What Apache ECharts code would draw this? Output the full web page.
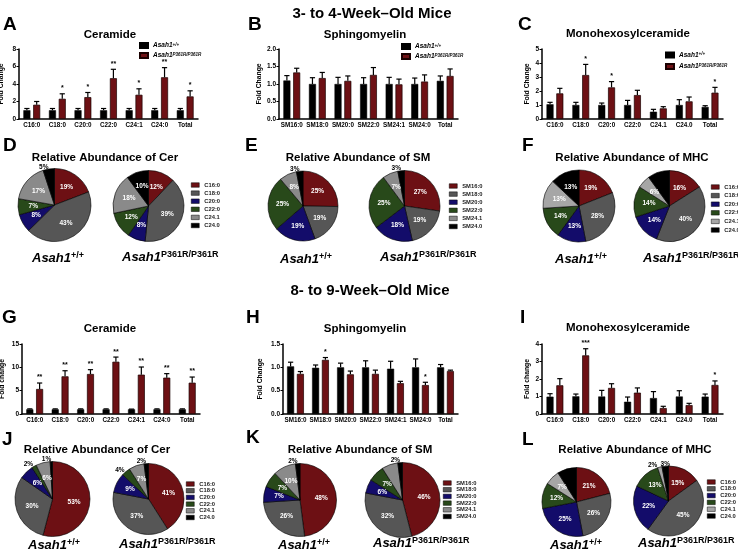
<!DOCTYPE html>
<html><head><meta charset="utf-8">
<script src="https://cdn.jsdelivr.net/npm/echarts/dist/echarts.min.js"></script>
<style>html,body{margin:0;padding:0;background:#fff}#c{width:738px;height:554px}</style>
</head><body><div id="c"></div>
<script>
const FONT = '"Liberation Sans", Arial, Helvetica, sans-serif';
const WT = 'Asah1+/+';
const MUT = 'Asah1P361R/P361R';

// ---------- categories ----------
const catsCer = ['C16:0','C18:0','C20:0','C22:0','C24:1','C24:0','Total'];
const catsSM  = ['SM16:0','SM18:0','SM20:0','SM22:0','SM24:1','SM24:0','Total'];
const catsMHC = ['C16:0','C18:0','C20:0','C22:0','C24.1','C24.0','Total'];

// ---------- Panel A: Ceramide (3-4 wk) ----------
const aTicks = [0,2,4,6,8];
const aWT = [1.0,1.0,1.0,1.0,1.0,1.0,1.0];
const aWTErr = [0.2,0.2,0.2,0.2,0.2,0.2,0.2];
const aMut = [1.63,2.31,2.5,4.66,2.77,4.77,2.58];
const aMutErr = [0.37,0.57,0.53,1.02,0.68,1.1,0.64];
const aStars = ['','*','*','**','*','**','*'];

// ---------- Panel B: Sphingomyelin (3-4 wk) ----------
const bTicks = [0,0.5,1.0,1.5,2.0];
const bWT = [1.1,1.0,1.0,1.0,1.0,1.0,1.09];
const bWTErr = [0.14,0.18,0.19,0.18,0.19,0.17,0.14];
const bMut = [1.33,1.17,1.09,1.26,0.99,1.07,1.23];
const bMutErr = [0.12,0.16,0.14,0.21,0.15,0.19,0.2];
const bStars = ['','','','','','',''];

// ---------- Panel C: Monohexosylceramide (3-4 wk) ----------
const cTicks = [0,1,2,3,4,5];
const cWT = [1.05,1.0,1.0,1.0,0.52,1.0,0.86];
const cWTErr = [0.14,0.19,0.14,0.33,0.17,0.38,0.09];
const cMut = [1.83,3.14,2.26,1.71,0.76,1.26,1.88];
const cMutErr = [0.36,0.76,0.41,0.34,0.12,0.31,0.38];
const cStars = ['','*','*','','','','*'];

// ---------- Panel G: Ceramide (8-9 wk) ----------
const gTicks = [0,5,10,15];
const gWT = [1.0,1.0,1.0,1.0,1.0,1.0,1.0];
const gWTErr = [0.1,0.1,0.1,0.1,0.05,0.1,0.1];
const gMut = [5.36,8.07,8.57,11.2,8.43,7.79,6.71];
const gMutErr = [1.28,1.2,0.93,1.0,1.64,0.86,1.21];
const gStars = ['**','**','**','**','**','**','**'];

// ---------- Panel H: Sphingomyelin (8-9 wk) ----------
const hTicks = [0,0.5,1.0,1.5];
const hWT = [1.02,0.99,1.0,1.0,0.97,1.0,1.0];
const hWTErr = [0.09,0.06,0.09,0.14,0.16,0.18,0.06];
const hMut = [0.86,1.16,0.85,0.86,0.66,0.62,0.92];
const hMutErr = [0.05,0.05,0.07,0.08,0.04,0.06,0.02];
const hStars = ['','*','','','','*',''];

// ---------- Panel I: Monohexosylceramide (8-9 wk) ----------
const iTicks = [0,1,2,3,4];
const iWT = [0.99,1.01,1.0,0.7,0.91,1.0,0.99];
const iWTErr = [0.17,0.13,0.35,0.27,0.37,0.33,0.15];
const iMut = [1.64,3.35,1.49,1.22,0.34,0.51,1.66];
const iMutErr = [0.38,0.38,0.24,0.27,0.1,0.1,0.23];
const iStars = ['','***','','','','','*'];

// ---------- Pie data (percent) ----------
const cerNames = ['C16:0','C18:0','C20:0','C22:0','C24.1','C24.0'];
const smNames  = ['SM16:0','SM18:0','SM20:0','SM22:0','SM24.1','SM24.0'];
const dWT  = [19,43,8,7,17,5];   const dMut = [12,39,8,12,18,10];
const eWT  = [25,19,19,25,8,3];  const eMut = [27,19,18,25,7,3];
const fWT  = [19,28,13,14,13,13];const fMut = [16,40,14,14,6,10];
const jWT  = [53,30,6,2,6,1];    const jMut = [41,37,9,4,7,2];
const kWT  = [48,26,7,7,10,2];   const kMut = [46,32,6,7,7,2];
const lWT  = [21,26,25,12,7,9];  const lMut = [15,45,22,13,2,3];

// ---------- styling ----------
const RED = '#6d1014';
const pieColorsA = [RED,'#565656','#130c6a','#28491a','#8a8a8a','#000000'];
const pieColorsM = [RED,'#565656','#130c6a','#28491a','#a6a6a6','#000000'];

const BW = 7, GAPR = 0.4, OFF = (BW + BW*GAPR)/2;

const barPanels = [
  {cats:catsCer, wt:aWT, wtE:aWTErr, mut:aMut, mutE:aMutErr, stars:aStars, ticks:aTicks, dec:0, name:'Fold Change', gap:14, grid:{left:19, top:49, width:179, height:70}},
  {cats:catsSM,  wt:bWT, wtE:bWTErr, mut:bMut, mutE:bMutErr, stars:bStars, ticks:bTicks, dec:1, name:'Fold Change', gap:16, grid:{left:279, top:49, width:179, height:70}},
  {cats:catsMHC, wt:cWT, wtE:cWTErr, mut:cMut, mutE:cMutErr, stars:cStars, ticks:cTicks, dec:0, name:'Fold Change', gap:11, grid:{left:542, top:49, width:181, height:70}},
  {cats:catsCer, wt:gWT, wtE:gWTErr, mut:gMut, mutE:gMutErr, stars:gStars, ticks:gTicks, dec:0, name:'Fold change', gap:16, grid:{left:22, top:344, width:178, height:70}},
  {cats:catsSM,  wt:hWT, wtE:hWTErr, mut:hMut, mutE:hMutErr, stars:hStars, ticks:hTicks, dec:1, name:'Fold Change', gap:19, grid:{left:283, top:344, width:175, height:70}},
  {cats:catsMHC, wt:iWT, wtE:iWTErr, mut:iMut, mutE:iMutErr, stars:iStars, ticks:iTicks, dec:0, name:'Fold change', gap:11, grid:{left:542, top:344, width:181, height:70}}
];

const grid = [], xAxis = [], yAxis = [], series = [];
barPanels.forEach((p, gi) => {
  grid.push(Object.assign({containLabel:false, outerBoundsMode:'none'}, p.grid));
  xAxis.push({type:'category', gridIndex:gi, data:p.cats,
    axisLine:{show:true, lineStyle:{color:'#000', width:1.5}}, axisTick:{show:false},
    axisLabel:{interval:0, fontSize:6.3, fontWeight:'bold', color:'#000', margin:3, fontFamily:FONT},
    splitLine:{show:false}});
  const t = p.ticks;
  yAxis.push({type:'value', gridIndex:gi, min:t[0], max:t[t.length-1], interval:t[1]-t[0],
    axisLine:{show:true, lineStyle:{color:'#000', width:1.5}},
    axisTick:{show:true, length:2.5, lineStyle:{color:'#000', width:1}},
    axisLabel:{fontSize:6.5, fontWeight:'bold', color:'#000', margin:3, fontFamily:FONT,
      formatter: v => v.toFixed(p.dec)},
    splitLine:{show:false},
    name:p.name, nameLocation:'middle', nameGap:p.gap, nameRotate:90,
    nameTextStyle:{fontSize:6.8, fontWeight:'bold', color:'#000', fontFamily:FONT}});
  series.push({type:'bar', name:WT, xAxisIndex:gi, yAxisIndex:gi, data:p.wt, barWidth:BW, barGap:(GAPR*100)+'%',
    itemStyle:{color:'#000', borderColor:'#000', borderWidth:0.5}, silent:true});
  series.push({type:'bar', name:MUT, xAxisIndex:gi, yAxisIndex:gi, data:p.mut, barWidth:BW, barGap:(GAPR*100)+'%',
    itemStyle:{color:RED, borderColor:'#1a0000', borderWidth:0.7}, silent:true});
  [[p.wt, p.wtE, -OFF, null],[p.mut, p.mutE, OFF, p.stars]].forEach(([vals, errs, off, stars]) => {
    series.push({type:'custom', xAxisIndex:gi, yAxisIndex:gi, z:5, silent:true,
      encode:{x:0, y:1},
      data: vals.map((v,i)=>[i, v, errs[i]]),
      renderItem: function(params, api){
        const i = api.value(0), v = api.value(1), e = api.value(2);
        const base = api.coord([i, v]);
        const top = api.coord([i, v+e]);
        const x = base[0] + off;
        const cap = 2.6;
        const ch = [
          {type:'line', shape:{x1:x, y1:base[1], x2:x, y2:top[1]}, style:{stroke:'#000', lineWidth:1.2}},
          {type:'line', shape:{x1:x-cap, y1:top[1], x2:x+cap, y2:top[1]}, style:{stroke:'#000', lineWidth:1.2}}
        ];
        const s = stars ? stars[params.dataIndex] : '';
        if (s) ch.push({type:'text', style:{text:s, x:x, y:top[1]-2, align:'center', verticalAlign:'bottom',
          textAlign:'center', textVerticalAlign:'bottom', fontSize:7, fontWeight:'bold', fontFamily:FONT, fill:'#000'}});
        return {type:'group', children:ch};
      }});
  });
});

function pieSeries(names, vals, colors, center, r, nudge) {
  const s = {type:'pie', center:center, radius:r, startAngle:90, clockwise:true, avoidLabelOverlap:false, silent:true,
    itemStyle:{borderColor:'#000', borderWidth:0.6},
    label:{show:true, position:'inside', formatter:'{c}%', color:'#fff', fontSize:6.5, fontWeight:'bold', fontFamily:FONT},
    labelLine:{show:false},
    emphasis:{disabled:true},
    data: names.map((n,i) => {
      const d = {name:n, value:vals[i], itemStyle:{color:colors[i]}};
      if (vals[i] <= 5) {
        d.label = {position:'outside', color:'#000', fontSize:6.5, distanceToLabelLine:0};
        d.labelLine = {show:false, length:2, length2:0};
      }
      return d;
    })};
  if (nudge) s.labelLayout = function(p){ const n = nudge[p.dataIndex]; return n ? {dx:n[0], dy:n[1]} : {}; };
  return s;
}
series.push(pieSeries(cerNames, dWT, pieColorsA, [54.5,205], 36.5));
series.push(pieSeries(cerNames, dMut, pieColorsA, [148.5,206], 35.5));
series.push(pieSeries(smNames, eWT, pieColorsA, [303,206], 35));
series.push(pieSeries(smNames, eMut, pieColorsA, [404.5,206], 35.5));
series.push(pieSeries(cerNames, fWT, pieColorsM, [579,206], 36));
series.push(pieSeries(cerNames, fMut, pieColorsM, [669.5,206], 35.5));
series.push(pieSeries(cerNames, jWT, pieColorsA, [52.5,499], 37.5));
series.push(pieSeries(cerNames, jMut, pieColorsA, [148.5,499], 35.5));
series.push(pieSeries(smNames, kWT, pieColorsA, [300,500], 36.5));
series.push(pieSeries(smNames, kMut, pieColorsA, [402.5,500], 37.5));
series.push(pieSeries(cerNames, lWT, pieColorsM, [576.5,502], 34.5));
series.push(pieSeries(cerNames, lMut, pieColorsM, [668.5,501], 35, {4:[-2,0], 5:[5,0]}));

function pieLegend(names, colors, left, top, gap) {
  return {orient:'vertical', left:left, top:top, itemWidth:8, itemHeight:4.5, itemGap:gap, selectedMode:false, padding:0,
    textStyle:{fontSize:5.8, fontWeight:'bold', color:'#222', lineHeight:6, fontFamily:FONT},
    data: names.map((n,i)=>({name:n, icon:'rect', itemStyle:{color:colors[i], borderColor:'#000', borderWidth:0.5}}))};
}
function barLegend(left, top, gap) {
  return {orient:'vertical', left:left, top:top, itemWidth:8, itemHeight:5, itemGap:gap, selectedMode:false, padding:0,
    data:[{name:WT, icon:'rect'},{name:MUT, icon:'rect'}],
    formatter: n => n === WT ? '{i|Asah1}{s|+/+}' : '{i|Asah1}{s|P361R/P361R}',
    textStyle:{fontFamily:FONT, color:'#000', rich:{
      i:{fontSize:6.5, fontStyle:'italic', fontWeight:'bold', lineHeight:7, fontFamily:FONT},
      s:{fontSize:4.5, fontStyle:'italic', fontWeight:'bold', lineHeight:5, verticalAlign:'top', fontFamily:FONT}}}};
}
const legend = [
  barLegend(139, 42, 3), barLegend(401, 43, 3), barLegend(665, 51.5, 4.5),
  pieLegend(cerNames, pieColorsA, 191, 182, 2.1),
  pieLegend(smNames, pieColorsA, 449, 183, 2.1),
  pieLegend(cerNames, pieColorsM, 711, 184, 2.6),
  pieLegend(cerNames, pieColorsA, 186, 481, 0.7),
  pieLegend(smNames, pieColorsA, 443, 480, 0.7),
  pieLegend(cerNames, pieColorsM, 707, 479, 0.8)
];

// ---------- text ----------
const els = [];
function txt(x, y, s, size, align, extra) {
  els.push({type:'text', x:x, y:y, silent:true, style:Object.assign({text:s, fontSize:size, fontWeight:'bold', fontFamily:FONT, fill:'#000',
    align:align||'center', verticalAlign:'middle', textAlign:align||'center', textVerticalAlign:'middle'}, extra||{})});
}
txt(372, 14, '3- to 4-Week\u2013Old Mice', 15);
txt(370, 291, '8- to 9-Week\u2013Old Mice', 15);
[['A',3,25],['B',248,25],['C',518,25],['D',3,146],['E',245,146],['F',522,146],
 ['G',2,318],['H',246,318],['I',520,318],['J',2,440],['K',246,438],['L',522,440]].forEach(([l,x,y]) => txt(x, y, l, 19, 'left'));
[['Ceramide',110,35],['Sphingomyelin',365,35],['Monohexosylceramide',628,34],
 ['Ceramide',110,329],['Sphingomyelin',365,329],['Monohexosylceramide',628,328]].forEach(([s,x,y]) => txt(x, y, s, 11.5));
[['Relative Abundance of Cer',105,158],['Relative Abundance of SM',358,158],['Relative Abundance of MHC',632,158],
 ['Relative Abundance of Cer',97,450],['Relative Abundance of SM',360,450],['Relative Abundance of MHC',635,450]].forEach(([s,x,y]) => txt(x, y, s, 11.5));
const gRich = {
  i:{fontSize:13, fontStyle:'italic', fontWeight:'bold', fontFamily:FONT, lineHeight:14, fill:'#000'},
  s:{fontSize:9, fontWeight:'bold', fontFamily:FONT, lineHeight:9, verticalAlign:'top', fill:'#000'}
};
[[32,258,'+/+'],[122,257,'P361R/P361R'],[280,259,'+/+'],[380,257,'P361R/P361R'],[555,259,'+/+'],[643,258,'P361R/P361R'],
 [28,545,'+/+'],[119,544,'P361R/P361R'],[278,545,'+/+'],[373,543,'P361R/P361R'],[550,545,'+/+'],[638,543,'P361R/P361R']]
 .forEach(([x,y,sup]) => txt(x, y, '{i|Asah1}{s|'+sup+'}', 13, 'left', {rich:gRich}));

const option = {
  animation:false,
  backgroundColor:'#fff',
  textStyle:{fontFamily:FONT},
  grid:grid, xAxis:xAxis, yAxis:yAxis, legend:legend, series:series,
  graphic:{elements:els}
};
const chart = echarts.init(document.getElementById('c'), null, {renderer:'canvas'});
chart.setOption(option);
</script></body></html>
